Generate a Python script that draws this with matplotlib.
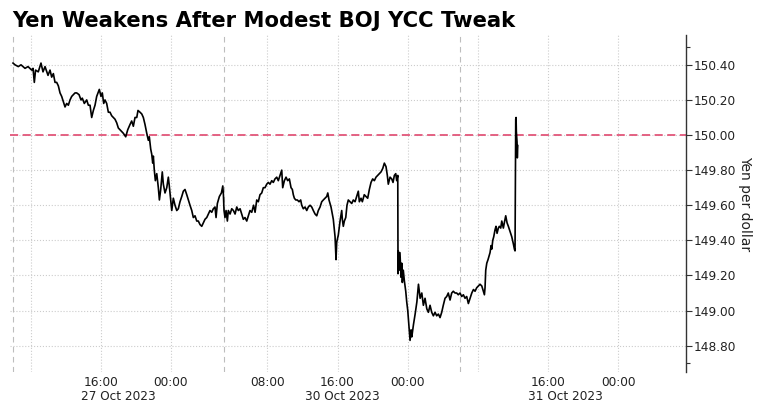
import matplotlib.pyplot as plt
import matplotlib.transforms as mtransforms
from matplotlib.ticker import FormatStrFormatter

# session hours since 27 Oct 06:00, weekend removed
hours = [0.00, 0.23, 0.60, 0.91, 1.37, 1.71, 2.13, 2.28, 2.43, 2.57, 2.88, 3.19, 3.42, 3.65, 3.99,
         4.22, 4.41, 4.60, 4.79, 4.98, 5.17, 5.36, 5.55, 5.74, 5.93, 6.12, 6.31, 6.50, 6.69, 7.07,
         7.26, 7.53, 7.75, 7.90, 8.13, 8.40, 8.59, 8.78, 8.97, 9.16, 9.35, 9.54, 9.84, 10.03, 10.18,
         10.34, 10.49, 10.68, 10.87, 11.06, 11.25, 11.44, 11.63, 11.82, 12.01, 12.20, 12.39, 12.58,
         12.85, 13.08, 13.34, 13.53, 13.72, 13.91, 14.11, 14.25, 14.48, 14.68, 14.86, 15.05, 15.25,
         15.43, 15.54, 15.70, 15.82, 15.93, 16.00, 16.11, 16.23, 16.39, 16.57, 16.69, 16.84, 17.02,
         17.14, 17.33, 17.53, 17.71, 17.82, 17.98, 18.10, 18.28, 18.47, 18.67, 18.85, 19.04, 19.24,
         19.42, 19.61, 19.81, 19.99, 20.18, 20.38, 20.56, 20.75, 20.95, 21.13, 21.32, 21.52, 21.70,
         21.89, 22.09, 22.27, 22.46, 22.66, 22.84, 23.03, 23.15, 23.30, 23.53, 23.76, 23.92, 23.99,
         24.06, 24.17, 24.29, 24.44, 24.55, 24.75, 24.94, 25.13, 25.32, 25.51, 25.69, 25.89, 26.08,
         26.26, 26.45, 26.65, 26.83, 27.02, 27.22, 27.43, 27.60, 27.79, 27.97, 28.16, 28.36, 28.54,
         28.73, 28.93, 29.11, 29.30, 29.50, 29.68, 29.87, 30.07, 30.25, 30.44, 30.64, 30.75, 30.94,
         31.13, 31.32, 31.51, 31.70, 31.85, 31.96, 32.08, 32.24, 32.42, 32.61, 32.80, 32.92, 33.10,
         33.30, 33.49, 33.67, 33.87, 34.06, 34.24, 34.44, 34.63, 34.81, 35.01, 35.20, 35.38, 35.58,
         35.77, 35.89, 36.03, 36.26, 36.41, 36.52, 36.64, 36.72, 36.83, 36.91, 37.09, 37.29, 37.48,
         37.55, 37.66, 37.78, 37.94, 38.08, 38.23, 38.43, 38.62, 38.80, 39.00, 39.19, 39.37, 39.49,
         39.68, 39.83, 40.05, 40.25, 40.44, 40.63, 40.82, 41.01, 41.20, 41.39, 41.58, 41.77, 41.96,
         42.16, 42.34, 42.53, 42.68, 42.79, 42.99, 43.18, 43.33, 43.48, 43.64, 43.75, 43.87, 43.90,
         43.93, 44.01, 44.12, 44.24, 44.32, 44.39, 44.50, 44.62, 44.78, 44.89, 45.01, 45.16, 45.27,
         45.39, 45.47, 45.66, 45.85, 46.05, 46.23, 46.42, 46.61, 46.79, 46.98, 47.18, 47.36, 47.55,
         47.74, 47.93, 48.12, 48.31, 48.50, 48.69, 48.88, 49.06, 49.26, 49.45, 49.63, 49.83, 50.02,
         50.20, 50.40, 50.59, 50.77, 50.97, 51.16, 51.35, 51.54, 51.73, 51.92, 52.11, 52.31, 52.50,
         52.68, 52.87, 53.06, 53.25, 53.45, 53.63, 53.75, 53.82, 53.90, 54.02, 54.16, 54.28, 54.39,
         54.51, 54.59, 54.70, 54.81, 54.96, 55.07, 55.19, 55.34, 55.45, 55.61, 55.73, 55.91, 56.02,
         56.18, 56.33, 56.48, 56.67, 56.87, 57.05, 57.17, 57.24, 57.32, 57.36, 57.39, 57.47, 57.50,
         57.55]

yen = [150.41, 150.40, 150.39, 150.40, 150.38, 150.39, 150.37, 150.38, 150.30, 150.37, 150.36,
       150.41, 150.36, 150.39, 150.34, 150.37, 150.33, 150.35, 150.30, 150.30, 150.28, 150.24,
       150.22, 150.19, 150.16, 150.18, 150.17, 150.20, 150.22, 150.24, 150.24, 150.23, 150.20,
       150.21, 150.18, 150.20, 150.17, 150.17, 150.10, 150.14, 150.17, 150.22, 150.26, 150.22,
       150.24, 150.18, 150.20, 150.18, 150.13, 150.13, 150.11, 150.10, 150.09, 150.07, 150.04,
       150.03, 150.02, 150.01, 149.99, 150.03, 150.06, 150.08, 150.05, 150.10, 150.10, 150.14,
       150.13, 150.12, 150.10, 150.06, 150.01, 149.97, 149.99, 149.92, 149.89, 149.84, 149.88,
       149.80, 149.74, 149.78, 149.70, 149.63, 149.69, 149.79, 149.72, 149.67, 149.70, 149.76,
       149.71, 149.63, 149.57, 149.64, 149.60, 149.57, 149.58, 149.62, 149.65, 149.68, 149.69,
       149.66, 149.63, 149.60, 149.57, 149.53, 149.54, 149.51, 149.51, 149.49, 149.48, 149.50,
       149.52, 149.53, 149.55, 149.57, 149.56, 149.58, 149.59, 149.53, 149.61, 149.65, 149.67,
       149.71, 149.66,
       149.57, 149.53, 149.57, 149.51, 149.57, 149.55, 149.58, 149.57, 149.55, 149.59, 149.57,
       149.58, 149.55, 149.52, 149.53, 149.51, 149.54, 149.57, 149.56, 149.60, 149.56, 149.63,
       149.62, 149.66, 149.67, 149.70, 149.70, 149.72, 149.73, 149.72, 149.74, 149.73, 149.75,
       149.76, 149.74, 149.77, 149.80, 149.70, 149.74, 149.76, 149.74, 149.75, 149.70, 149.69,
       149.66, 149.64, 149.63, 149.63, 149.62, 149.63, 149.60, 149.58, 149.59, 149.57, 149.59,
       149.60, 149.59, 149.57, 149.55, 149.54, 149.57, 149.59, 149.62, 149.63, 149.64, 149.65,
       149.67, 149.63, 149.59, 149.55, 149.52, 149.46, 149.42, 149.29, 149.39, 149.43, 149.51,
       149.57, 149.52, 149.48, 149.51, 149.53, 149.60, 149.63, 149.62, 149.61, 149.63, 149.62,
       149.65, 149.68, 149.62, 149.64, 149.62, 149.66, 149.65, 149.64, 149.69, 149.73, 149.75,
       149.74, 149.76, 149.77, 149.78, 149.79, 149.81, 149.84, 149.82, 149.77, 149.72, 149.76,
       149.75, 149.73, 149.77, 149.78, 149.74, 149.77, 149.21, 149.34, 149.23, 149.33, 149.19,
       149.27, 149.16, 149.23, 149.17, 149.11, 149.05, 149.00, 148.90, 148.83, 148.89, 148.85,
       148.92, 148.98, 149.05, 149.15, 149.07, 149.10, 149.03, 149.07, 149.01, 148.99, 149.03,
       148.99, 148.97, 148.99, 148.97, 148.98, 148.96, 148.99, 149.03, 149.07, 149.08, 149.10,
       149.06, 149.10, 149.11, 149.10, 149.10, 149.09, 149.10, 149.08, 149.09, 149.07, 149.08,
       149.04, 149.07, 149.10, 149.12, 149.11, 149.13, 149.14, 149.15, 149.14, 149.11, 149.09,
       149.13, 149.23, 149.27, 149.29, 149.31, 149.33, 149.37, 149.35, 149.40, 149.42, 149.46,
       149.48, 149.44, 149.47, 149.48, 149.47, 149.51, 149.47, 149.50, 149.54, 149.50, 149.48,
       149.45, 149.42, 149.38, 149.35, 149.34, 150.09, 150.10, 150.02, 149.96, 149.87, 149.94]

grid_hours = [2, 10, 18, 29, 37, 45, 53, 61, 69]
grid_labels = ['', '16:00', '00:00', '08:00', '16:00', '00:00', '', '16:00', '00:00']
session_breaks = [0, 24, 51]
session_mid = [12, 37.5, 63]
session_dates = ['27 Oct 2023', '30 Oct 2023', '31 Oct 2023']
price_ticks = [148.8, 149.0, 149.2, 149.4, 149.6, 149.8, 150.0, 150.2, 150.4]

fig = plt.figure(figsize=(7.6, 4.05), dpi=100)
ax = fig.add_axes([0.0132, 0.0815, 0.8888, 0.8321])

ax.plot(hours, yen, color='black', lw=1.2, zorder=3)
ax.axhline(150.0, color='#e2567a', lw=1.3, dashes=(4.5, 2.5), zorder=2)
for b in session_breaks:
    ax.axvline(b, color='#bdbdbd', lw=0.8, dashes=(5, 4), zorder=1)

ax.set_xlim(-0.34, 76.68)
ax.set_ylim(148.65, 150.57)

ax.set_xticks(grid_hours)
ax.set_xticklabels(grid_labels)
ax.set_yticks(price_ticks)
ax.set_yticks([148.7, 150.5], minor=True)
ax.yaxis.set_major_formatter(FormatStrFormatter('%.2f'))
ax.yaxis.tick_right()
ax.grid(True, color='#cccccc', ls=':', lw=0.8)
ax.set_axisbelow(True)

for s in ['top', 'left', 'bottom']:
    ax.spines[s].set_visible(False)
ax.spines['right'].set_color('#333333')
ax.spines['right'].set_linewidth(1.0)

ax.tick_params(axis='x', length=0, pad=3, labelsize=8.7, labelcolor='#222222')
ax.tick_params(axis='y', which='major', direction='out', length=4, width=0.8,
               color='#333333', pad=2, labelsize=8.7, labelcolor='#222222')
ax.tick_params(axis='y', which='minor', direction='out', length=3, width=0.8, color='#333333')

trans = mtransforms.blended_transform_factory(ax.transData, ax.transAxes)
for xm, d in zip(session_mid, session_dates):
    ax.text(xm, -0.074, d, transform=trans, ha='center', va='center',
            fontsize=8.7, color='#222222')

fig.text(12 / 760, 1 - 27 / 405, 'Yen Weakens After Modest BOJ YCC Tweak',
         fontsize=15.2, fontweight='bold', ha='left', va='baseline')
fig.text(745 / 760, 1 - 203.5 / 405, 'Yen per dollar', rotation=270,
         fontsize=10, ha='center', va='center', color='#222222')

fig.savefig('out.png', dpi=100)
